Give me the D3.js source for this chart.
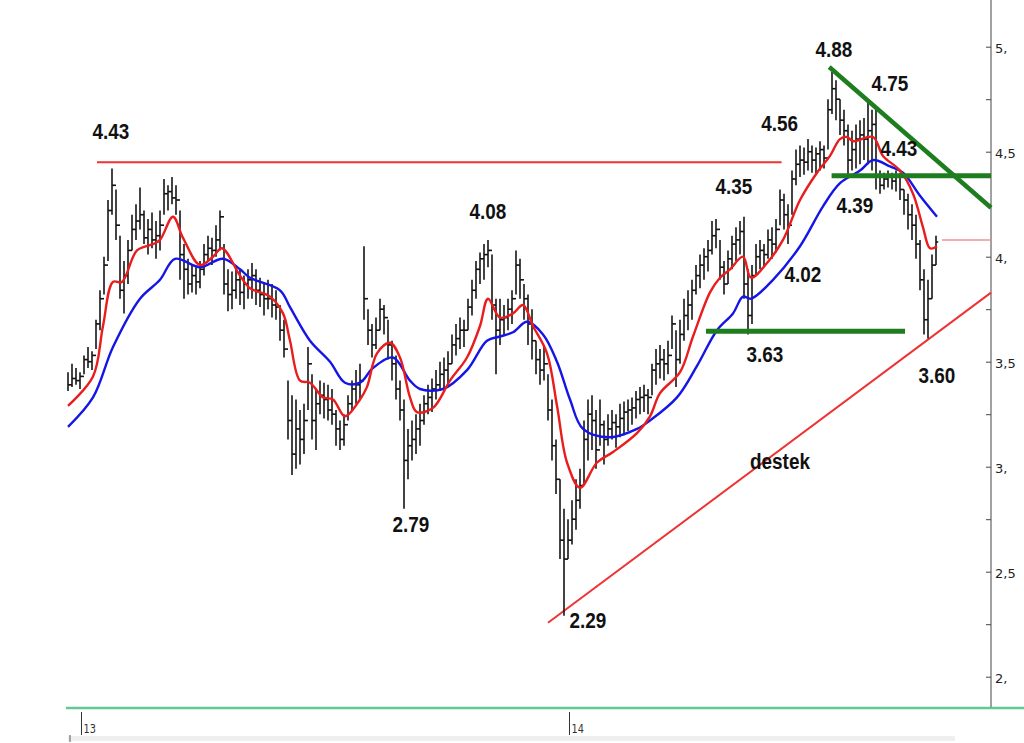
<!DOCTYPE html>
<html><head><meta charset="utf-8">
<script src="https://cdn.jsdelivr.net/npm/d3@7/dist/d3.min.js"></script>
<style>
html,body{margin:0;padding:0;background:#fff;}
svg{display:block;}
</style></head>
<body><svg id="chart" width="1024" height="743"></svg>
<script>
// ---------- DATA ----------
// one bar every ~2 trading days (index units), from late Dec 2012 to autumn 2014
const barHigh = [
3.45,3.49,3.47,3.45,3.53,3.57,3.55,3.70,3.84,4.00,
4.27,4.42,4.32,4.10,3.98,4.08,4.20,4.25,4.33,4.22,
4.18,4.21,4.17,4.22,4.37,4.34,4.38,4.34,4.22,4.06,
3.99,3.96,3.95,3.98,4.06,4.10,4.09,4.15,4.22,4.06,
3.94,3.93,3.96,3.94,3.91,3.94,3.97,3.94,3.90,3.87,
3.89,3.87,3.84,3.77,3.70,3.41,3.34,3.32,3.27,3.30,
3.57,3.44,3.37,3.41,3.40,3.39,3.37,3.27,3.22,3.25,
3.34,3.41,3.46,3.49,4.05,3.75,3.68,3.71,3.80,3.77,
3.70,3.60,3.53,3.41,3.32,3.18,3.22,3.25,3.30,3.34,
3.39,3.42,3.46,3.50,3.52,3.55,3.63,3.68,3.71,3.70,
3.80,3.89,3.98,4.02,4.06,4.08,4.01,3.80,3.80,3.77,
3.80,3.84,4.03,3.99,3.87,3.82,3.75,3.60,3.56,3.58,
3.44,3.32,3.13,2.94,2.80,2.75,2.84,2.94,2.99,3.22,
3.32,3.34,3.27,3.32,3.22,3.25,3.27,3.25,3.30,3.31,
3.32,3.33,3.36,3.38,3.39,3.37,3.49,3.56,3.58,3.56,
3.60,3.72,3.65,3.70,3.80,3.84,3.89,3.96,4.01,4.04,
4.08,4.17,4.18,4.08,3.98,4.03,4.10,4.14,4.17,4.19,
3.94,3.96,4.06,4.08,4.06,4.13,4.14,4.18,4.32,4.30,
4.25,4.41,4.51,4.53,4.52,4.56,4.53,4.52,4.55,4.53,
4.75,4.88,4.84,4.75,4.70,4.63,4.60,4.63,4.65,4.66,
4.75,4.70,4.70,4.41,4.40,4.41,4.40,4.41,4.40,4.32,
4.30,4.25,4.20,4.08,3.94,3.89,4.01,4.10];
const barLow = [
3.36,3.38,3.39,3.37,3.44,3.47,3.46,3.56,3.65,3.82,
3.98,4.20,4.08,3.80,3.73,3.87,4.03,4.08,4.13,4.06,
4.01,4.04,3.99,4.03,4.20,4.22,4.25,4.20,3.89,3.80,
3.82,3.83,3.82,3.85,3.91,3.98,3.96,4.00,4.03,3.82,
3.74,3.75,3.80,3.77,3.75,3.80,3.80,3.77,3.76,3.72,
3.75,3.71,3.70,3.60,3.52,3.13,2.96,2.99,3.01,3.06,
3.27,3.13,3.08,3.25,3.23,3.22,3.20,3.10,3.08,3.10,
3.22,3.27,3.30,3.32,3.70,3.58,3.52,3.56,3.65,3.63,
3.51,3.41,3.32,3.22,2.80,2.94,3.03,3.06,3.10,3.20,
3.25,3.26,3.32,3.36,3.37,3.39,3.49,3.53,3.56,3.57,
3.65,3.72,3.80,3.87,3.89,3.95,3.70,3.44,3.58,3.63,
3.65,3.68,3.82,3.80,3.70,3.58,3.51,3.44,3.39,3.41,
3.22,3.03,2.87,2.56,2.29,2.56,2.63,2.70,2.80,2.91,
3.03,3.08,2.99,3.10,3.01,3.10,3.13,3.09,3.14,3.15,
3.17,3.20,3.23,3.25,3.26,3.25,3.34,3.39,3.42,3.41,
3.44,3.56,3.38,3.49,3.60,3.65,3.70,3.82,3.85,3.89,
3.93,4.01,4.04,3.89,3.82,3.87,3.94,3.98,4.01,3.80,
3.63,3.68,3.91,3.94,3.95,3.99,3.99,4.02,4.15,4.13,
4.06,4.20,4.34,4.38,4.39,4.41,4.40,4.39,4.41,4.42,
4.51,4.68,4.65,4.58,4.53,4.39,4.41,4.42,4.44,4.46,
4.44,4.41,4.32,4.30,4.32,4.33,4.32,4.31,4.27,4.20,
4.13,4.08,3.99,3.84,3.63,3.61,3.80,3.96];
const barClose = [
3.39,3.42,3.41,3.43,3.51,3.50,3.53,3.68,3.80,3.96,
4.22,4.34,4.15,3.84,3.91,4.03,4.13,4.17,4.20,4.09,
4.13,4.08,4.10,4.15,4.30,4.31,4.28,4.27,4.01,3.94,
3.87,3.91,3.88,3.94,4.01,4.04,4.03,4.08,4.19,3.87,
3.82,3.84,3.89,3.83,3.87,3.89,3.91,3.84,3.82,3.80,
3.80,3.77,3.76,3.65,3.56,3.22,3.06,3.18,3.13,3.22,
3.49,3.22,3.30,3.34,3.32,3.27,3.25,3.18,3.13,3.20,
3.30,3.37,3.39,3.41,3.80,3.65,3.58,3.65,3.75,3.71,
3.58,3.49,3.37,3.27,3.03,3.10,3.13,3.18,3.22,3.30,
3.33,3.37,3.39,3.44,3.46,3.49,3.58,3.61,3.65,3.65,
3.76,3.84,3.94,3.99,4.01,4.03,3.77,3.65,3.70,3.71,
3.75,3.80,3.96,3.89,3.80,3.68,3.60,3.51,3.46,3.49,
3.27,3.10,2.94,2.65,2.56,2.65,2.75,2.84,2.91,3.13,
3.25,3.22,3.08,3.20,3.13,3.18,3.21,3.19,3.23,3.26,
3.27,3.28,3.32,3.33,3.34,3.33,3.46,3.49,3.51,3.49,
3.53,3.68,3.51,3.63,3.72,3.77,3.84,3.91,3.96,4.00,
4.03,4.10,4.13,3.95,3.87,3.99,4.06,4.08,4.12,3.87,
3.72,3.91,4.00,4.03,4.01,4.08,4.06,4.13,4.27,4.20,
4.15,4.37,4.44,4.46,4.45,4.50,4.46,4.49,4.51,4.47,
4.70,4.80,4.75,4.65,4.60,4.46,4.51,4.56,4.58,4.56,
4.60,4.63,4.39,4.34,4.37,4.38,4.36,4.39,4.32,4.27,
4.20,4.15,4.06,3.89,3.70,3.80,3.96,4.07];

// short moving average (red), read at bar-index positions
const maShortIdx = [0,6.25,8.75,11.25,13.5,17.25,21.25,23,26.25,28.75,33,36.25,38.5,43,45.5,50.5,53.75,55.5,58,60.5,63.75,66.25,69.25,73,74.75,77.25,80.5,83,85.5,87.25,91.25,95.5,99.75,103,105,108,111.25,113.75,116.25,119.75,122.25,124.75,128,132.25,136.25,142.25,145.5,148,153,156.25,160.5,163,165.5,168.75,170.75,174.75,178.75,183,187.25,190.5,193,194.75,196.25,201.25,203.75,208,211.25,213.75,215.5,217.25];
const maShortVal = [3.29,3.43,3.67,3.88,3.88,4.03,4.06,4.08,4.19,4.09,3.96,4.00,4.04,3.91,3.85,3.81,3.73,3.60,3.41,3.40,3.33,3.32,3.24,3.32,3.38,3.54,3.59,3.52,3.33,3.26,3.28,3.41,3.52,3.67,3.80,3.71,3.73,3.77,3.67,3.54,3.29,3.02,2.90,3.02,3.07,3.16,3.24,3.35,3.45,3.62,3.83,3.90,3.94,4.00,3.90,3.97,4.08,4.27,4.40,4.48,4.56,4.57,4.55,4.57,4.48,4.41,4.30,4.14,4.04,4.05];
// long moving average (blue)
const maLongIdx = [0,6.25,11.25,18,23,26.75,33,38.75,43,45.5,53,55.5,60.5,65.5,69.25,73,76.25,81.25,85.5,88,93.75,99.75,104.75,108,111.25,114.75,118.75,122.25,125.5,128.75,135.5,142.25,145.5,152.25,157.25,162.25,166.25,168.75,170.75,176.25,183,188.75,193,198,201.25,205.5,208.75,213,217.25];
const maLongVal = [3.19,3.33,3.57,3.80,3.89,3.99,3.95,3.99,3.94,3.90,3.84,3.76,3.60,3.50,3.40,3.40,3.47,3.52,3.41,3.37,3.37,3.46,3.60,3.62,3.64,3.69,3.63,3.50,3.32,3.18,3.14,3.18,3.22,3.33,3.48,3.65,3.73,3.81,3.80,3.89,4.05,4.24,4.35,4.41,4.46,4.43,4.40,4.29,4.19];

// analyst price labels: text, bar index, price level of baseline
const calloutText  = ["4.43","4.08","2.79","2.29","4.35","4.56","4.88","4.75","4.43","4.39","4.02","3.63","3.60","destek"];
const calloutIdx   = [10.75,105,85.75,130,166.5,177.9,191.5,205.5,207.75,196.75,183.75,174.25,217.25,178];
const calloutPrice = [4.56,4.18,2.69,2.23,4.30,4.60,4.95,4.79,4.48,4.21,3.88,3.50,3.40,2.99];

// drawn lines: [startIdx, startPrice, endIdx, endPrice]
const resistanceLine = [7.25,4.45,178.4,4.45];
const supportTrend   = [120,2.257,230.75,3.829];
const downTrend      = [190.3,4.903,230.75,4.233];
const level439       = [190.9,4.385,230.75,4.385];
const level363       = [159.5,3.645,209.25,3.645];
const lastPrice      = [218.5,4.08,230.75,4.08];

const yTickValues = [2,2.25,2.5,2.75,3,3.25,3.5,3.75,4,4.25,4.5,4.75,5];
const yTickLabels = ["2,","","2,5","","3,","","3,5","","4,","","4,5","","5,"];
const yearTickIdx = [3.25,125.25];
const yearLabels  = ["13","14"];

// ---------- DRAW ----------
const svg = d3.select("#chart");
const x = d3.scaleLinear().domain([0, barHigh.length - 1]).range([68, 936]);
const y = d3.scaleLinear().domain([2, 5]).range([676.7, 46.7]);
const axisX = x(230.75);

function condense(sel, k){
  sel.each(function(){
    const w = this.getComputedTextLength();
    this.setAttribute("textLength", (w*k).toFixed(1));
    this.setAttribute("lengthAdjust","spacingAndGlyphs");
  });
}

// bottom decorations
svg.append("rect").attr("x",68).attr("y",736).attr("width",887).attr("height",5).attr("fill","#efefef");
svg.append("line").attr("x1",66).attr("x2",1024).attr("y1",708).attr("y2",708)
  .attr("stroke","#62c994").attr("stroke-width",2.5);
svg.append("line").attr("x1",70).attr("x2",70).attr("y1",735).attr("y2",742).attr("stroke","#555").attr("stroke-width",1);
const yr = svg.append("g");
yearTickIdx.forEach((t,i)=>{
  const xx = Math.round(x(t))+0.5;
  yr.append("line").attr("x1",xx).attr("x2",xx).attr("y1",712).attr("y2",735).attr("stroke","#333").attr("stroke-width",1);
  yr.append("text").attr("x",xx+2).attr("y",733).text(yearLabels[i])
    .attr("font-family","'DejaVu Sans',sans-serif").attr("font-size",13).attr("fill","#333")
    .call(condense,0.75);
});

// right axis
const yAxis = d3.axisRight(y).tickValues(yTickValues).tickSize(-5).tickPadding(4)
  .tickFormat((d,i)=>yTickLabels[i]);
const ag = svg.append("g").attr("transform",`translate(${axisX},0)`).call(yAxis);
ag.select(".domain").remove();
ag.selectAll(".tick line").attr("stroke","#444");
ag.selectAll(".tick text").attr("font-family","'DejaVu Sans',sans-serif").attr("font-size",13).attr("fill","#222").attr("dy","0.45em");
svg.append("line").attr("x1",axisX).attr("x2",axisX).attr("y1",0).attr("y2",707).attr("stroke","#444").attr("stroke-width",1);

// reference lines (behind bars)
function seg(arr, color, w, g){
  g.append("line").attr("x1",x(arr[0])).attr("y1",y(arr[1])).attr("x2",x(arr[2])).attr("y2",y(arr[3]))
   .attr("stroke",color).attr("stroke-width",w).attr("stroke-linecap","butt");
}
const lg = svg.append("g");
seg(resistanceLine,"#ee3333",2,lg);
seg(supportTrend,"#ee3333",2,lg);
seg(lastPrice,"#f19090",1.5,lg);

// OHLC bars
const bars = svg.append("g").attr("stroke","#151515").attr("stroke-width",1.6);
barHigh.forEach((h,i)=>{
  const xx = x(i);
  bars.append("line").attr("x1",xx).attr("x2",xx).attr("y1",y(h)).attr("y2",y(barLow[i]));
  bars.append("line").attr("x1",xx).attr("x2",xx+2.2).attr("y1",y(barClose[i])).attr("y2",y(barClose[i]));
  if(i>0) bars.append("line").attr("x1",xx-2.2).attr("x2",xx).attr("y1",y(barClose[i-1])).attr("y2",y(barClose[i-1]));
});

// moving averages
const line = d3.line().curve(d3.curveCatmullRom.alpha(0.5));
svg.append("path").attr("d",line(maLongIdx.map((t,i)=>[x(t),y(maLongVal[i])])))
  .attr("fill","none").attr("stroke","#1515e6").attr("stroke-width",2.4);
svg.append("path").attr("d",line(maShortIdx.map((t,i)=>[x(t),y(maShortVal[i])])))
  .attr("fill","none").attr("stroke","#ea1c1c").attr("stroke-width",2.4);

// green analyst lines
const gg = svg.append("g");
seg(level439,"#1e7d1e",5,gg);
seg(level363,"#1e7d1e",5,gg);
seg(downTrend,"#1e7d1e",4.5,gg);

// callouts
const cg = svg.append("g").attr("font-family","'Liberation Sans Narrow','Arial Narrow','Liberation Sans',sans-serif")
  .attr("font-weight","bold").attr("font-size",22).attr("fill","#111").attr("text-anchor","middle");
calloutText.forEach((t,i)=>{
  cg.append("text").attr("x",x(calloutIdx[i])).attr("y",y(calloutPrice[i])).text(t).call(condense,0.86);
});
</script>
</body></html>
